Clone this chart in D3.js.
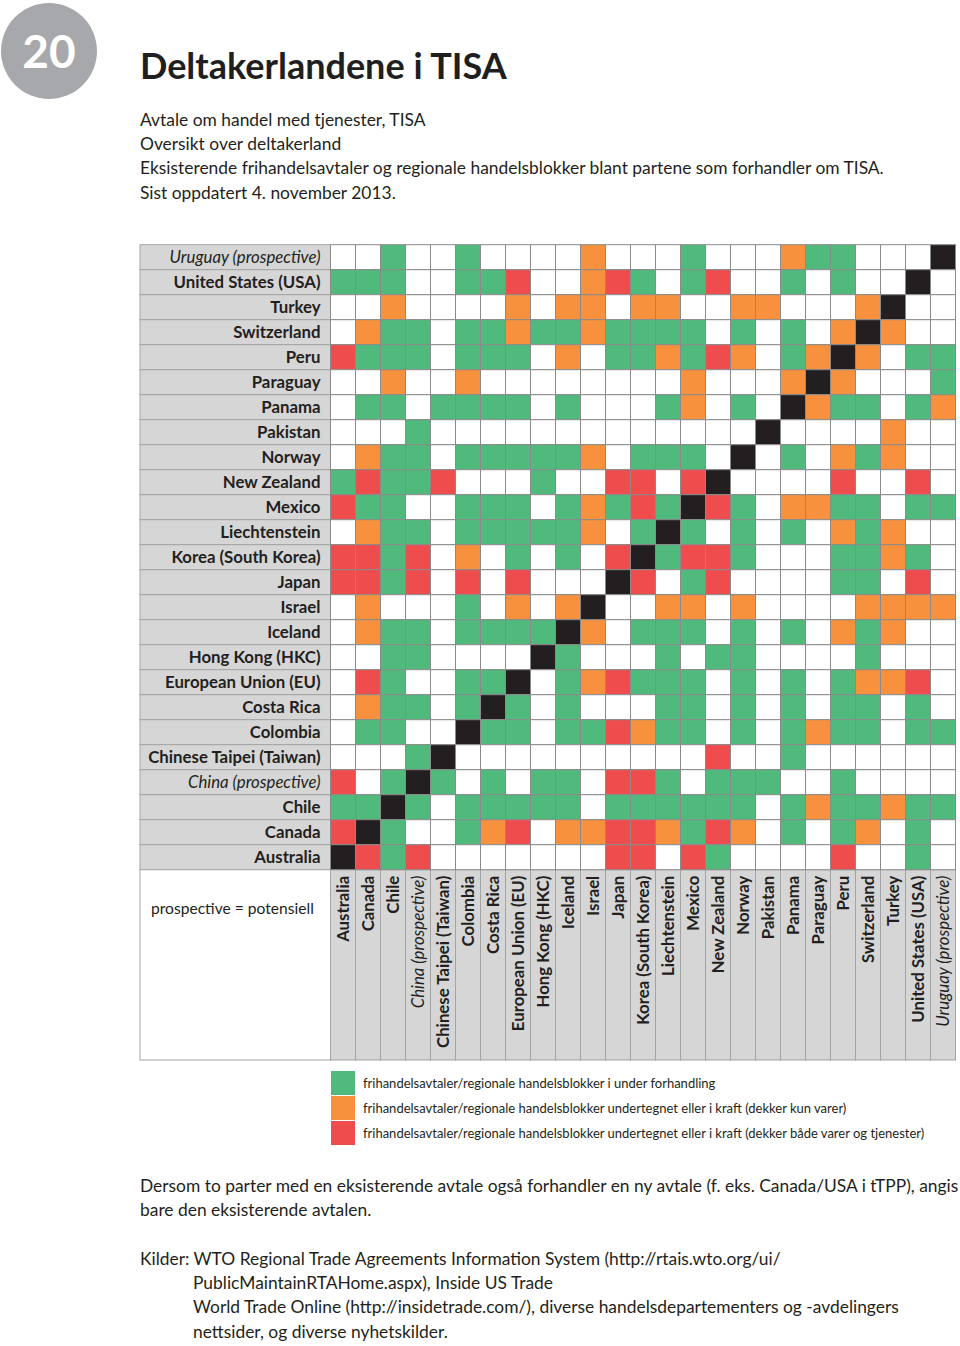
<!DOCTYPE html>
<html><head><meta charset="utf-8">
<script src="https://cdn.jsdelivr.net/npm/d3@7"></script>
<style>body{margin:0;background:#fff}svg{display:block}</style>
</head><body>
<script>
// ---- data ----
const rowNames = ["Uruguay (prospective)","United States (USA)","Turkey","Switzerland","Peru","Paraguay","Panama","Pakistan","Norway","New Zealand","Mexico","Liechtenstein","Korea (South Korea)","Japan","Israel","Iceland","Hong Kong (HKC)","European Union (EU)","Costa Rica","Colombia","Chinese Taipei (Taiwan)","China (prospective)","Chile","Canada","Australia"];
const colNames = ["Australia","Canada","Chile","China (prospective)","Chinese Taipei (Taiwan)","Colombia","Costa Rica","European Union (EU)","Hong Kong (HKC)","Iceland","Israel","Japan","Korea (South Korea)","Liechtenstein","Mexico","New Zealand","Norway","Pakistan","Panama","Paraguay","Peru","Switzerland","Turkey","United States (USA)","Uruguay (prospective)"];
// g = i under forhandling, o = kun varer, r = varer og tjenester, x = samme land, . = ingen
const matrixRows = [
"..g..g....o...g...ogg...x",
"ggg..ggr..org.gr..g.g..x.",
"..o....o.oo.oo..oo...ox..",
".ogg.ggoggogggg.g.g.oxo..",
"rggg.ggg.o.ggogro.goxo.gg",
"..o..o........o...oxo...g",
".gg.gggg.g...go.g.xogg.go",
"...g.............x....o..",
".ogg.gggggo.ggg.x.g.ogo..",
"grggr...g..rr.rx....r..r.",
"rgg..ggg.gogrgxrg.oogg.gg",
".ogg.gggggo.gxg.g.g.ogo..",
"rrgr.o.g.g.rxgrrg...ggog.",
"rrgr.r.r...xr.gr....gg.r.",
".o...g.o.ox..oo.o....oooo",
".ogg.ggggxo.ggg.g.g.ogo..",
"..gg....xg...g.gg....g...",
".rg..ggx.gorggg.g.g.goor.",
".ogg.gxg.g...gg.g.g.gg.g.",
".gg..xgg.ggrogg.g.gogg.gg",
"...gx..........r..g......",
"r.gxg.g.gg.rrg.ggg..g....",
"ggxg.ggggg.gggggg.goggogg",
"rxg..gor.oorrogro.g.go.g.",
"xrgr.......rr.rg....r..g."
];
const legendKeys = ["g","o","r"];
const legendLabels = [
"frihandelsavtaler/regionale handelsblokker i under forhandling",
"frihandelsavtaler/regionale handelsblokker undertegnet eller i kraft (dekker kun varer)",
"frihandelsavtaler/regionale handelsblokker undertegnet eller i kraft (dekker både varer og tjenester)"
];
const badgeNumber = "20";
const title = "Deltakerlandene i TISA";
const subtitleLines = ["Avtale om handel med tjenester, TISA","Oversikt over deltakerland","Eksisterende frihandelsavtaler og regionale handelsblokker blant partene som forhandler om TISA.","Sist oppdatert 4. november 2013."];
const noteLabel = "prospective = potensiell";
const footnoteLines = ["Dersom to parter med en eksisterende avtale også forhandler en ny avtale (f. eks. Canada/USA i tTPP), angis","bare den eksisterende avtalen."];
const sourceLines = ["Kilder: WTO Regional Trade Agreements Information System (http://rtais.wto.org/ui/","PublicMaintainRTAHome.aspx), Inside US Trade","World Trade Online (http://insidetrade.com/), diverse handelsdepartementers og -avdelingers","nettsider, og diverse nyhetskilder."];

// ---- drawing ----
const W = 960, H = 1346;
const FONT = "Lato, 'Open Sans', sans-serif";
const color = d3.scaleOrdinal().domain(["g","o","r","x","."]).range(["#4fba7c","#f7913d","#ee4c4d","#231f20","#ffffff"]);
const svg = d3.select("body").append("svg").attr("width", W).attr("height", H).style("font-family", FONT);

const gridL = 330.5, gridT = 244.7, cell = 25;
const x = d3.scaleBand().domain(colNames).range([gridL, gridL + cell * colNames.length]);
const y = d3.scaleBand().domain(rowNames).range([gridT, gridT + cell * rowNames.length]);
const labelL = 140, colLabelB = 1060;
const labelSize = 16.8, bodySize = 17.4;

// badge
svg.append("circle").attr("cx", 49).attr("cy", 51).attr("r", 48).attr("fill", "#a7a8ab");
svg.append("text").attr("x", 49).attr("y", 68).attr("text-anchor", "middle").attr("fill", "#fff")
  .attr("font-size", 46).attr("font-weight", 700).text(badgeNumber);
svg.append("text").attr("x", 140).attr("y", 79).attr("font-size", 36).attr("font-weight", 700)
  .attr("fill", "#1f1f1f").text(title);
svg.append("g").selectAll("text").data(subtitleLines).join("text")
  .attr("x", 140).attr("y", (d, i) => 126 + i * 24.2).attr("font-size", bodySize).attr("fill", "#231f20").text(d => d);

// row labels
const rowG = svg.append("g");
rowG.selectAll("rect").data(rowNames).join("rect")
  .attr("x", labelL).attr("y", d => y(d)).attr("width", gridL - labelL).attr("height", y.bandwidth())
  .attr("fill", "#d6d6d7").attr("stroke", "#a3a3a3").attr("stroke-width", 1);
rowG.selectAll("text").data(rowNames).join("text")
  .attr("x", gridL - 10).attr("y", d => y(d) + y.bandwidth() / 2 + 6)
  .attr("text-anchor", "end").attr("font-size", labelSize)
  .attr("font-weight", d => d.includes("prospective") ? 400 : 700)
  .attr("font-style", d => d.includes("prospective") ? "italic" : "normal")
  .attr("fill", "#231f20").text(d => d);

// column labels
const colG = svg.append("g");
colG.selectAll("rect").data(colNames).join("rect")
  .attr("x", d => x(d)).attr("y", y.range()[1]).attr("width", x.bandwidth()).attr("height", colLabelB - y.range()[1])
  .attr("fill", "#d6d6d7").attr("stroke", "#a3a3a3").attr("stroke-width", 1);
colG.selectAll("text").data(colNames).join("text")
  .attr("transform", d => `translate(${x(d) + x.bandwidth() / 2 + 6},${y.range()[1] + 6}) rotate(-90)`)
  .attr("text-anchor", "end").attr("font-size", labelSize)
  .attr("font-weight", d => d.includes("prospective") ? 400 : 700)
  .attr("font-style", d => d.includes("prospective") ? "italic" : "normal")
  .attr("fill", "#231f20").text(d => d);

// note box
svg.append("rect").attr("x", labelL).attr("y", y.range()[1]).attr("width", gridL - labelL)
  .attr("height", colLabelB - y.range()[1]).attr("fill", "#fff").attr("stroke", "#a3a3a3");
svg.append("text").attr("x", 151).attr("y", 914).attr("font-size", 15.6).attr("fill", "#231f20").text(noteLabel);

// cells
const cells = [];
matrixRows.forEach((s, ri) => s.split("").forEach((k, ci) => cells.push({ r: rowNames[ri], c: colNames[ci], k })));
svg.append("g").selectAll("rect").data(cells).join("rect")
  .attr("x", d => x(d.c)).attr("y", d => y(d.r)).attr("width", x.bandwidth()).attr("height", y.bandwidth())
  .attr("fill", d => color(d.k)).attr("stroke", "#8a8a8a").attr("stroke-width", 1);

// legend
const lg = svg.append("g");
legendKeys.forEach((k, i) => {
  lg.append("rect").attr("x", 331).attr("y", 1071 + i * 25).attr("width", 24).attr("height", 24).attr("fill", color(k));
  lg.append("text").attr("x", 363).attr("y", 1088 + i * 25).attr("font-size", 13).attr("fill", "#231f20").text(legendLabels[i]);
});

// footnotes
svg.append("g").selectAll("text").data(footnoteLines).join("text")
  .attr("x", 140).attr("y", (d, i) => 1192 + i * 24.2).attr("font-size", bodySize).attr("fill", "#231f20").text(d => d);
svg.append("g").selectAll("text").data(sourceLines).join("text")
  .attr("x", (d, i) => i === 0 ? 140 : 193).attr("y", (d, i) => 1265 + i * 24.2).attr("font-size", bodySize).attr("fill", "#231f20").text(d => d);
</script>
</body></html>
